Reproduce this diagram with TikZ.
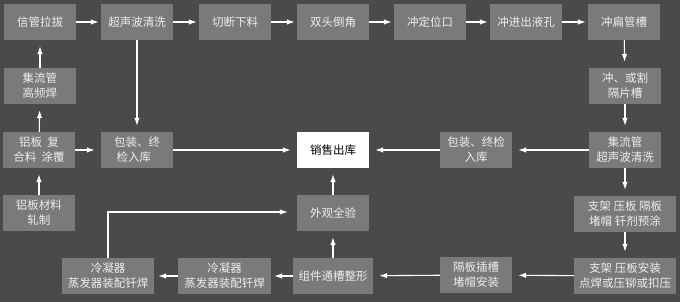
\documentclass[tikz,border=0pt]{standalone}
\usepackage{fontspec}
\usepackage{tikz}
\usetikzlibrary{arrows.meta,calc}
\newfontfamily\cjk{Noto Sans CJK SC}
\definecolor{slate}{HTML}{4a4a4a}
\definecolor{stone}{HTML}{7a7a7a}
\definecolor{chalk}{HTML}{eeeeee}

\begin{document}
\begin{tikzpicture}[x=1pt,y=-1pt,
  stage/.style={fill=stone, draw=none, text=chalk, minimum width=72pt, minimum height=36pt,
    inner sep=0pt, align=center, font=\cjk\fontsize{11.5}{15}\selectfont},
  outbox/.style={stage, fill=white, text=black},
  flow/.style={draw=white, line width=1.1pt, -{Latex[length=8pt,width=5.5pt]}, shorten >=6pt},
  near/.style={flow, shorten >=2pt}]
  % canvas 680 x 302, y grows downwards
  \fill[slate] (0,0) rectangle (680,302);
  \useasboundingbox (0,0) rectangle (680,302);

  % top row: tube line
  \node[stage] (lagb) at (40,22) {信管拉拔};
  \node[stage] (qxa)  at (137,22) {超声波清洗};
  \node[stage] (qdxl) at (235,22) {切断下料};
  \node[stage] (sjdj) at (333,22) {双头倒角};
  \node[stage] (cdw)  at (430,22) {冲定位口};
  \node[stage] (cjck) at (526,22) {冲进出液孔};
  \node[stage] (cbg)  at (624,22) {冲扁管槽};

  % left column: header material
  \node[stage] (gph)  at (40,86) {集流管\\高频焊};
  \node[stage] (lbfh) at (39,150) {铝板\ \ 复\\合料\ \ 涂覆};
  \node[stage] (lbzz) at (39,213) {铝板材料\\轧制};

  % middle row
  \node[stage, align=left] (bzl) at (137,150) {包装、终\\\ 检入库};
  \node[outbox] (xsck) at (333,150) {销售出库};
  \node[stage] (bzr)  at (476,150) {包装、终检\\入库};
  \node[stage] (chg)  at (625,86) {冲、或割\\隔片槽};
  \node[stage] (qxb)  at (625,150) {集流管\\超声波清洗};

  % bottom: assembly line
  \node[stage, minimum width=102pt] (ytj)  at (625,214) {支架\ 压板\ 隔板\\堵帽\ 钎剂预涂};
  \node[stage, minimum width=102pt] (azz)  at (625,276) {支架\ 压板安装\\点焊或压铆或扣压};
  \node[stage] (gbcc) at (476,275) {隔板插槽\\堵帽安装};
  \node[stage, minimum width=80pt] (ztzx) at (333,276) {组件通槽整形};
  \node[stage, minimum width=93pt] (hjm)  at (224.5,276) {冷凝器\\蒸发器装配钎焊};
  \node[stage, minimum width=92pt] (hjl)  at (108,276) {冷凝器\\蒸发器装配钎焊};
  \node[stage] (wgqy) at (333,213) {外观全验};

  % connectors
  \draw[near] (lagb) -- (qxa);
  \draw[near] (qxa) -- (qdxl);
  \draw[near] (qdxl) -- (sjdj);
  \draw[near] (sjdj) -- (cdw);
  \draw[near] (cdw) -- (cjck);
  \draw[near] (cjck) -- (cbg);
  \draw[flow] (cbg) -- (chg);
  \draw[flow] (chg) -- (qxb);
  \draw[flow] (qxb) -- (bzr);
  \draw[flow] (bzr) -- (xsck);
  \draw[flow] (bzl) -- (xsck);
  \draw[flow] (qxa) -- (bzl);
  \draw[flow] (lbfh) -- (bzl);
  \draw[flow] (gph) -- (lagb);
  \draw[flow] (lbfh) -- (gph);
  \draw[flow] (lbzz) -- (lbfh);
  \draw[flow] (qxb) -- (ytj);
  \draw[flow] (ytj) -- (azz);
  \draw[flow] (azz) -- (gbcc);
  \draw[flow] (gbcc) -- (ztzx);
  \draw[flow, shorten >=3pt] (ztzx) -- (hjm);
  \draw[flow, shorten >=4pt] (hjm) -- (hjl);
  \draw[flow] (ztzx) -- (wgqy);
  \draw[flow] (wgqy) -- (xsck);
  \draw[flow, shorten >=9pt] (hjl.north) |- ($(wgqy.west)+(0,-1)$);
\end{tikzpicture}
\end{document}
